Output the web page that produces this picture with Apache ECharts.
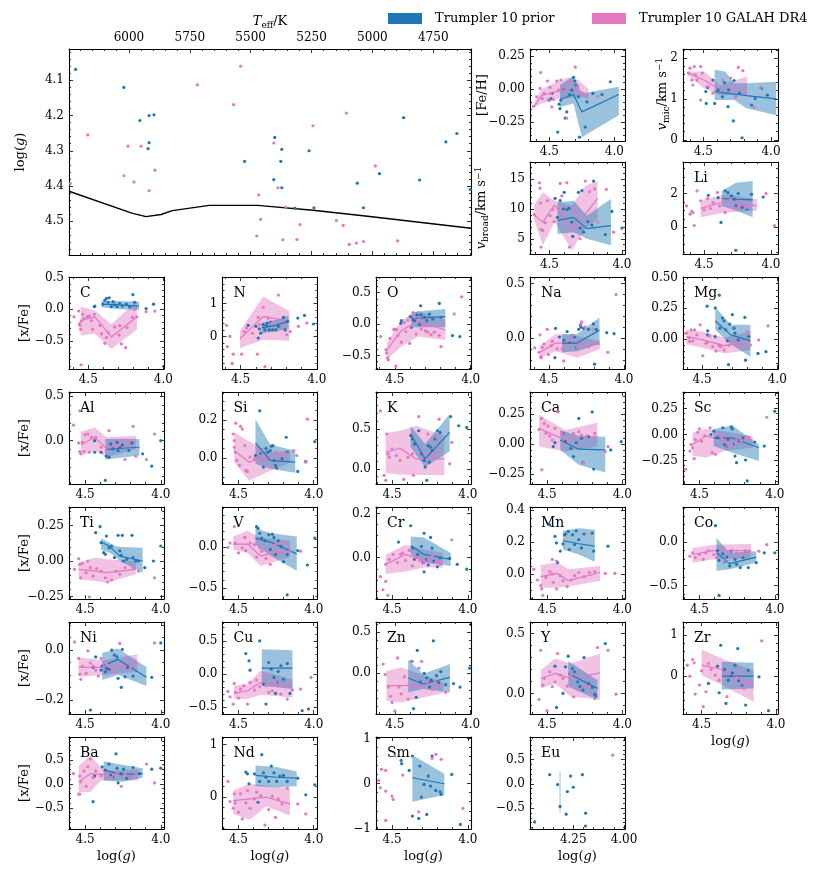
<!DOCTYPE html>
<html><head><meta charset="utf-8">
<script src="https://cdn.jsdelivr.net/npm/echarts@6/dist/echarts.min.js"></script>
<style>html,body{margin:0;padding:0;background:#fff}#c{width:831px;height:872px}</style>
</head><body><div id="c"></div>
<script>
// ---------------- DATA ----------------
// Kiel diagram (Teff [K], log g)
const kiel_prior = [[6219,4.069],[6021,4.12],[5955,4.214],[5917,4.20],[5897,4.198],[5917,4.277],[5921,4.294],[5525,4.33],[5401,4.262],[5372,4.296],[5376,4.33],[5405,4.382],[5372,4.405],[5318,4.463],[5260,4.30],[5240,4.462],[5062,4.392],[5037,4.462],[4971,4.365],[4872,4.206],[4806,4.383],[4698,4.275],[4653,4.251],[4598,4.41]];
const kiel_galah = [[6169,4.255],[6004,4.287],[5950,4.287],[6021,4.371],[5979,4.389],[5893,4.355],[5917,4.413],[6240,4.393],[5719,4.113],[5541,4.06],[5570,4.169],[5405,4.278],[5388,4.405],[5467,4.425],[5355,4.46],[5459,4.495],[5297,4.51],[5475,4.542],[5368,4.553],[5310,4.552],[5244,4.229],[5107,4.193],[5148,4.498],[5120,4.512],[5095,4.566],[5066,4.562],[5037,4.558],[4988,4.343],[4897,4.556]];
const isochrone = [[6246,4.415],[5988,4.477],[5930,4.487],[5868,4.481],[5822,4.470],[5670,4.455],[5471,4.455],[5244,4.469],[5020,4.486],[4595,4.52]];

// band rows: [log g, lower, median, upper]
const feh_prior = [[4.503,-0.085],[4.479,-0.033],[4.487,-0.072],[4.425,-0.115],[4.418,-0.149],[4.412,-0.085],[4.379,-0.221],[4.366,-0.174],[4.392,0.005],[4.345,-0.041],[4.327,-0.008],[4.314,0.090],[4.304,0.062],[4.296,0.031],[4.276,-0.059],[4.224,-0.29],[4.211,-0.097],[4.165,-0.033],[4.095,-0.041],[4.031,0.056],[4.436,-0.328],[4.268,-0.367]];
const feh_galah = [[4.624,-0.131],[4.598,-0.059],[4.572,0.005],[4.567,0.126],[4.554,-0.072],[4.541,-0.033],[4.515,0.062],[4.508,-0.079],[4.495,0.013],[4.487,-0.033],[4.469,-0.079],[4.443,0.062],[4.430,-0.008],[4.412,0.069],[4.392,0.013],[4.366,-0.221],[4.340,0.056],[4.301,0.167],[4.281,0.023],[4.250,-0.033],[4.211,-0.059],[4.126,-0.054],[4.482,-0.136]];
const feh_priorBand = [[4.418,-0.136,-0.079,0.031],[4.314,-0.11,-0.041,0.1],[4.25,-0.367,-0.174,-0.033],[3.966,-0.2,-0.041,0.018]];
const feh_galahBand = [[4.616,-0.14,-0.13,-0.10],[4.559,-0.11,-0.05,0.0],[4.456,-0.08,-0.02,0.05],[4.353,-0.07,0.0,0.09],[4.276,-0.06,-0.01,0.07],[4.198,-0.06,-0.05,0.0]];

const vmic_prior = [[4.482,1.18],[4.469,1.28],[4.479,0.89],[4.417,0.89],[4.430,1.46],[4.391,1.22],[4.359,1.05],[4.344,1.40],[4.318,0.81],[4.279,0.46],[4.273,1.45],[4.234,1.14],[4.214,0.05],[4.143,0.85],[4.117,1.01],[4.070,1.26],[4.026,1.09],[4.313,1.22],[4.260,1.05]];
const vmic_galah = [[4.612,1.63],[4.599,1.75],[4.568,1.79],[4.586,1.46],[4.578,1.34],[4.560,1.59],[4.521,1.79],[4.508,1.63],[4.521,0.97],[4.464,1.30],[4.430,1.14],[4.357,1.46],[4.299,1.51],[4.286,1.26],[4.260,1.05],[4.242,1.77],[4.208,1.69],[4.195,1.14],[4.125,0.79],[4.078,1.28],[4.547,1.46]];
const vmic_priorBand = [[4.417,0.97,1.18,1.71],[4.339,0.97,1.14,1.67],[4.273,0.97,1.12,1.38],[4.182,0.77,1.08,1.38],[3.961,0.60,1.0,1.42]];
const vmic_galahBand = [[4.612,1.56,1.63,1.67],[4.495,1.26,1.46,1.67],[4.378,1.09,1.23,1.34],[4.177,1.09,1.22,1.55]];

const vbr_prior = [[4.461,11.8],[4.426,11.4],[4.403,10.0],[4.398,12.8],[4.380,9.9],[4.364,10.1],[4.346,7.8],[4.339,5.4],[4.300,12.8],[4.276,13.1],[4.288,6.8],[4.265,6.1],[4.235,7.9],[4.207,7.3],[4.196,14.7],[4.115,5.7],[4.069,9.6],[4.0,6.8],[4.445,8.6]];
const vbr_galah = [[4.606,9.06],[4.569,14.4],[4.565,13.5],[4.560,11.0],[4.558,6.56],[4.558,3.6],[4.546,6.4],[4.530,7.7],[4.514,11.4],[4.495,8.9],[4.477,9.9],[4.468,7.9],[4.426,14.3],[4.415,12.2],[4.392,9.6],[4.380,14.4],[4.362,3.6],[4.346,6.7],[4.329,9.9],[4.306,9.2],[4.288,5.0],[4.253,14.7],[4.223,12.9],[4.188,13.4],[4.166,7.8],[4.108,13.3],[4.058,6.1]];
const vbr_priorBand = [[4.445,5.8,8.1,11.1],[4.334,6.1,8.6,11.4],[4.242,5.0,6.7,8.9],[4.076,3.9,7.2,11.7]];
const vbr_galahBand = [[4.606,8.3,9.0,10.7],[4.546,3.9,7.8,12.8],[4.465,7.8,10.7,11.4],[4.346,3.1,6.6,10.6],[4.253,6.7,9.1,13.9],[4.168,8.3,11.8,14.7]];

const li_prior = [[4.468,1.90],[4.374,0.29],[4.395,1.76],[4.342,2.16],[4.321,2.06],[4.295,1.86],[4.276,1.67],[4.245,2.0],[4.263,1.27],[4.216,1.18],[4.179,1.08],[4.145,1.96],[4.058,1.80],[4.263,-1.37]];
const li_galah = [[4.632,1.27],[4.605,0.78],[4.592,0.94],[4.584,0.88],[4.574,0.10],[4.553,2.16],[4.526,1.57],[4.500,1.04],[4.453,1.12],[4.434,1.47],[4.400,2.06],[4.382,1.27],[4.342,0.88],[4.303,1.67],[4.266,1.12],[4.237,1.24],[4.211,1.37],[4.179,1.18],[3.974,0.10],[4.037,2.0],[4.474,1.71]];
const li_priorBand = [[4.368,1.27,1.71,2.16],[4.263,1.0,1.67,2.65],[4.137,0.59,1.63,2.75]];
const li_galahBand = [[4.526,0.59,1.12,1.61],[4.342,0.88,1.53,1.96],[4.105,0.98,1.27,1.67]];

const c_prior = [[4.46,0.04],[4.456,0.05],[4.390,0.14],[4.379,0.17],[4.361,0.18],[4.401,0.08],[4.368,0.11],[4.346,0.04],[4.335,0.12],[4.324,0.07],[4.308,0.04],[4.291,0.09],[4.273,0.05],[4.247,0.08],[4.225,0.04],[4.203,0.23],[4.192,0.11],[4.115,0.01],[4.066,0.08]];
const c_galah = [[4.595,-0.12],[4.564,-0.03],[4.559,-0.23],[4.555,-0.26],[4.551,-0.32],[4.546,-0.19],[4.537,-0.08],[4.529,-0.15],[4.507,-0.12],[4.493,-0.11],[4.478,-0.18],[4.460,-0.08],[4.423,-0.26],[4.412,-0.39],[4.390,-0.54],[4.379,-0.45],[4.368,-0.37],[4.324,-0.28],[4.295,-0.41],[4.291,-0.26],[4.280,-0.55],[4.251,-0.61],[4.242,-0.29],[4.207,-0.13],[4.192,0.0],[4.176,-0.12],[4.115,-0.04],[4.057,-0.03],[4.548,-0.88],[4.471,-0.32]];
const c_priorBand = [[4.412,0.03,0.08,0.13],[4.291,0.0,0.07,0.13],[4.163,-0.01,0.05,0.12]];
const c_galahBand = [[4.551,-0.42,-0.18,0.04],[4.456,-0.39,-0.12,-0.02],[4.346,-0.63,-0.44,-0.24],[4.176,-0.32,-0.12,0.13]];

const n_prior = [[4.450,0.34],[4.399,0.31],[4.384,-0.05],[4.377,0.23],[4.368,0.10],[4.351,0.36],[4.340,0.20],[4.325,0.41],[4.311,0.20],[4.303,0.44],[4.289,0.20],[4.268,0.20],[4.252,0.31],[4.219,0.58],[4.208,0.20],[4.193,0.46],[4.125,0.56],[4.081,0.64],[4.022,0.38],[4.329,0.33]];
const n_galah = [[4.592,0.34],[4.586,-0.31],[4.570,0],[4.555,-0.82],[4.548,-0.54],[4.493,-0.54],[4.461,0.26],[4.421,0.10],[4.390,-0.54],[4.384,0.58],[4.377,0.36],[4.351,0.89],[4.340,-0.92],[4.318,0.56],[4.296,0.41],[4.252,1.26],[4.230,0.26],[4.197,0.05],[4.175,0.15],[4.121,0.31],[4.066,0.41],[4.476,0.15]];
const n_priorBand = [[4.362,0.1,0.26,0.41],[4.274,0.16,0.34,0.50],[4.186,0.23,0.46,0.64]];
const n_galahBand = [[4.504,-0.36,-0.07,0.17],[4.351,-0.10,0.61,1.22],[4.18,-0.13,0.46,0.77]];

const o_prior = [[4.457,0.053],[4.461,0.01],[4.398,0.116],[4.391,-0.053],[4.380,0.063],[4.37,0.053],[4.354,0.147],[4.343,0.13],[4.330,0.29],[4.326,0.147],[4.337,-0.01],[4.304,0.105],[4.289,0.053],[4.272,0.158],[4.25,0.079],[4.207,0.326],[4.196,0.105],[4.12,-0.184],[4.072,-0.2]];
const o_galah = [[4.593,-0.2],[4.559,-0.41],[4.554,-0.46],[4.548,-0.54],[4.543,-0.57],[4.533,-0.23],[4.507,-0.09],[4.5,-0.08],[4.489,-0.09],[4.478,-0.18],[4.493,-0.67],[4.457,-0.29],[4.439,0.02],[4.428,-0.12],[4.413,0.06],[4.402,-0.31],[4.391,-0.03],[4.380,0.18],[4.37,0.11],[4.359,-0.16],[4.341,0.11],[4.326,-0.08],[4.311,-0.03],[4.298,-0.11],[4.283,-0.13],[4.261,-0.17],[4.239,-0.13],[4.207,-0.18],[4.196,-0.36],[4.185,0.06],[4.109,0.16],[4.059,0.43]];
const o_priorBand = [[4.391,-0.053,0.09,0.184],[4.30,-0.053,0.10,0.21],[4.167,-0.053,0.116,0.237]];
const o_galahBand = [[4.554,-0.568,-0.42,-0.305],[4.457,-0.358,-0.105,0.063],[4.348,-0.2,0.042,0.21],[4.167,-0.253,-0.095,0.053]];

const na_prior = [[4.456,0.09],[4.460,-0.18],[4.430,0.01],[4.401,-0.02],[4.379,0.06],[4.361,-0.04],[4.346,0.02],[4.330,0.01],[4.317,-0.085],[4.302,0.08],[4.291,0.12],[4.286,0.10],[4.269,0.09],[4.236,0.08],[4.203,0.13],[4.196,-0.24],[4.185,0.08],[4.115,0.05],[4.066,0.04]];
const na_galah = [[4.595,-0.09],[4.566,-0.13],[4.555,-0.17],[4.551,-0.18],[4.559,0.03],[4.544,-0.085],[4.533,-0.055],[4.511,0.08],[4.504,-0.15],[4.485,-0.07],[4.478,-0.03],[4.445,-0.10],[4.412,-0.10],[4.401,-0.21],[4.379,-0.07],[4.361,-0.02],[4.346,0.02],[4.313,-0.08],[4.286,0.13],[4.282,0.15],[4.258,0.10],[4.236,-0.08],[4.207,0.08],[4.176,-0.05],[4.108,-0.13],[4.053,0.40]];
const na_priorBand = [[4.412,-0.13,-0.046,0.037],[4.313,-0.12,-0.046,0.037],[4.163,-0.055,0.073,0.19]];
const na_galahBand = [[4.559,-0.18,-0.13,-0.07],[4.456,-0.12,-0.046,0.037],[4.313,-0.18,-0.05,0.02],[4.159,-0.10,-0.055,-0.03]];

const mg_prior = [[4.467,0.267],[4.463,0.066],[4.463,0.033],[4.413,0.253],[4.413,0.019],[4.386,0.357],[4.382,0.088],[4.365,0.17],[4.354,0.148],[4.332,-0.016],[4.325,-0.209],[4.317,0.121],[4.299,0.198],[4.288,0.088],[4.282,0.047],[4.260,-0.008],[4.216,0.176],[4.212,-0.173],[4.190,0.019],[4.129,-0.118],[4.076,-0.104],[4.343,0.074]];
const mg_galah = [[4.605,0.047],[4.587,0.01],[4.583,-0.02],[4.572,0.074],[4.561,-0.016],[4.550,0.074],[4.535,0.033],[4.513,0.115],[4.496,-0.137],[4.474,-0.036],[4.452,0.025],[4.430,-0.063],[4.408,-0.099],[4.391,-0.05],[4.376,-0.063],[4.354,-0.09],[4.321,-0.05],[4.277,-0.027],[4.255,-0.036],[4.234,-0.063],[4.201,0.06],[4.179,-0.05],[4.124,-0.008],[4.063,0.107],[4.467,-0.027]];
const mg_priorBand = [[4.413,0.074,0.148,0.258],[4.31,-0.044,0.033,0.115],[4.179,-0.146,-0.016,0.115]];
const mg_galahBand = [[4.605,-0.044,0.019,0.074],[4.496,-0.071,-0.008,0.06],[4.354,-0.118,-0.055,0.011],[4.179,-0.091,-0.022,0.06]];

const al_prior = [[4.437,0],[4.437,-0.13],[4.394,-0.13],[4.359,-0.174],[4.342,-0.185],[4.331,-0.037],[4.317,-0.093],[4.289,-0.019],[4.282,-0.111],[4.271,-0.074],[4.254,-0.048],[4.211,-0.111],[4.19,-0.026],[4.120,-0.148],[4.060,-0.285],[4.0,0],[4.366,-0.444]];
const al_galah = [[4.577,0.174],[4.535,0.333],[4.542,-0.026],[4.535,-0.122],[4.528,-0.148],[4.518,-0.019],[4.507,-0.122],[4.5,0.067],[4.482,0.074],[4.472,-0.13],[4.458,0.037],[4.43,0.037],[4.394,-0.074],[4.359,-0.111],[4.342,0.111],[4.306,-0.037],[4.282,-0.056],[4.261,0],[4.236,-0.211],[4.218,0],[4.183,0.159],[4.165,-0.174],[4.095,-0.211],[4.042,0.074]];
const al_priorBand = [[4.366,-0.211,-0.1,0.019],[4.254,-0.19,-0.085,0.02],[4.141,-0.167,-0.074,0.019]];
const al_galahBand = [[4.528,-0.167,-0.048,0.1],[4.437,-0.111,0.037,0.148],[4.359,-0.185,-0.085,0.037],[4.165,-0.093,-0.037,0.056]];

const si_prior = [[4.387,0.014],[4.359,0.249],[4.352,0.023],[4.334,-0.047],[4.317,0.052],[4.306,0.031],[4.289,0.04],[4.282,0.063],[4.271,0.066],[4.264,-0.012],[4.254,-0.038],[4.246,-0.052],[4.211,-0.003],[4.183,0.11],[4.176,0.031],[4.106,-0.07],[4.053,-0.017],[3.993,0.087]];
const si_galah = [[4.535,0.127],[4.528,0.092],[4.518,0.184],[4.528,0.057],[4.521,0.031],[4.511,-0.012],[4.493,-0.038],[4.486,0.167],[4.475,0.153],[4.458,0.066],[4.451,-0.064],[4.440,-0.07],[4.423,0.005],[4.394,-0.003],[4.370,0.04],[4.352,0.014],[4.324,-0.012],[4.282,-0.047],[4.254,0.031],[4.229,0.005],[4.176,0.023],[4.134,0.04],[4.113,0.014],[4.042,0.205],[4.053,-0.021]];
const si_priorBand = [[4.387,-0.03,0.08,0.205],[4.289,-0.056,-0.012,0.07],[4.123,-0.077,-0.021,0.04]];
const si_galahBand = [[4.528,-0.021,0.04,0.136],[4.43,-0.117,-0.021,0.087],[4.282,-0.064,0.014,0.031],[4.158,-0.024,0.023,0.04]];

const k_prior = [[4.377,0.417],[4.366,0.375],[4.352,0.313],[4.324,0.479],[4.306,0.188],[4.289,0.104],[4.282,0.021],[4.271,-0.146],[4.261,0.292],[4.246,0.271],[4.236,0.229],[4.218,0.375],[4.201,0.479],[4.183,0.458],[4.113,0.658],[4.060,0.542],[4.007,0.521],[4.254,0.083]];
const k_galah = [[4.577,0.729],[4.553,-0.083],[4.542,-0.146],[4.535,0.438],[4.528,0.188],[4.518,0.146],[4.5,0.25],[4.472,0.167],[4.447,0.104],[4.423,-0.133],[4.394,0.146],[4.366,0.188],[4.324,0.658],[4.289,0.2],[4.264,0.438],[4.236,0.167],[4.211,0.208],[4.190,0.625],[4.183,0.417],[4.120,0.063],[4.106,0.333],[4.359,-0.083]];
const k_priorBand = [[4.377,0.271,0.438,0.542],[4.282,0.021,0.125,0.313],[4.120,0.217,0.458,0.688]];
const k_galahBand = [[4.542,-0.05,0.208,0.45],[4.447,-0.075,0.258,0.479],[4.342,-0.075,0.125,0.542],[4.155,-0.083,0.125,0.417]];

const ca_prior = [[4.458,-0.022],[4.447,0.011],[4.394,0.089],[4.377,0.019],[4.342,-0.036],[4.324,-0.106],[4.306,0.011],[4.289,0.214],[4.271,0.047],[4.261,-0.156],[4.225,0.061],[4.2,0.269],[4.190,-0.211],[4.077,-0.05],[4.007,0.019]];
const ca_galah = [[4.553,0.122],[4.535,0.214],[4.535,-0.217],[4.518,0.172],[4.507,0.089],[4.493,0.15],[4.482,0.067],[4.465,0.033],[4.447,0.131],[4.430,0.269],[4.401,0.089],[4.377,0.061],[4.359,0.033],[4.324,0.089],[4.289,0.103],[4.271,0.075],[4.236,0.067],[4.183,0.089],[4.113,-0.064],[4.095,-0.022],[4.261,-0.161]];
const ca_priorBand = [[4.412,-0.05,0.033,0.117],[4.289,-0.175,-0.044,0.067],[4.113,-0.239,-0.05,0.061]];
const ca_galahBand = [[4.553,-0.022,0.131,0.242],[4.377,-0.064,0.033,0.117],[4.165,-0.022,0.067,0.178]];

const sc_prior = [[4.423,0],[4.405,0.032],[4.380,-0.032],[4.345,0.064],[4.335,-0.096],[4.317,-0.111],[4.310,-0.048],[4.289,0.073],[4.282,0.054],[4.275,-0.096],[4.264,-0.207],[4.254,-0.271],[4.239,-0.064],[4.211,-0.032],[4.194,-0.245],[4.183,-0.446],[4.134,-0.073],[4.070,-0.111],[4.0,0.223]];
const sc_galah = [[4.592,-0.334],[4.563,-0.159],[4.556,-0.096],[4.546,-0.127],[4.535,-0.232],[4.528,-0.048],[4.511,0.022],[4.5,0.054],[4.486,-0.064],[4.465,-0.01],[4.430,0.064],[4.415,-0.175],[4.394,-0.191],[4.370,0.016],[4.352,-0.032],[4.324,-0.073],[4.310,-0.105],[4.282,-0.105],[4.254,-0.054],[4.225,-0.064],[4.183,-0.022],[4.169,-0.032],[4.053,0.166]];
const sc_priorBand = [[4.405,-0.111,-0.032,0.054],[4.282,-0.175,-0.032,0.086],[4.106,-0.255,-0.127,-0.096]];
const sc_galahBand = [[4.546,-0.201,-0.096,0.016],[4.458,-0.223,-0.016,0.054],[4.335,-0.159,-0.054,0.032],[4.148,-0.127,-0.048,-0.016]];

const ti_prior = [[4.401,0.242],[4.394,0.129],[4.377,0.059],[4.366,0.047],[4.359,0.176],[4.342,0.094],[4.324,0.106],[4.306,0.024],[4.282,0.181],[4.271,0.071],[4.261,0.04],[4.254,0.181],[4.246,0],[4.225,0.012],[4.190,0.181],[4.183,0.024],[4.165,0],[4.148,0],[4.106,-0.047],[4.049,0],[4.0,0.106],[4.430,0.2]];
const ti_galah = [[4.570,-0.059],[4.542,0.016],[4.535,-0.024],[4.528,-0.118],[4.518,-0.016],[4.493,-0.082],[4.482,0],[4.465,-0.047],[4.447,-0.106],[4.423,-0.054],[4.394,-0.071],[4.366,-0.118],[4.352,-0.148],[4.324,-0.134],[4.296,-0.071],[4.271,-0.094],[4.236,-0.047],[4.183,-0.047],[4.148,-0.071],[4.042,-0.118],[4.472,-0.254]];
const ti_priorBand = [[4.394,0.082,0.134,0.158],[4.342,0.06,0.106,0.13],[4.306,0.035,0.07,0.106],[4.271,0.0,0.035,0.1],[4.120,-0.082,0,0.094]];
const ti_galahBand = [[4.542,-0.129,-0.059,-0.012],[4.43,-0.141,-0.071,0.024],[4.359,-0.153,-0.082,0.012],[4.165,-0.094,-0.059,0]];

const v_prior = [[4.380,0.254],[4.370,0.234],[4.359,0.173],[4.345,0.113],[4.324,0.081],[4.299,0.153],[4.289,-0.028],[4.275,0.161],[4.264,0.121],[4.254,-0.089],[4.236,0.081],[4.218,0.012],[4.201,-0.177],[4.176,-0.089],[4.106,-0.04],[4.042,-0.218],[3.993,0.113],[4.176,-0.585]];
const v_galah = [[4.570,0],[4.556,0.052],[4.528,0.254],[4.521,0.052],[4.5,-0.069],[4.475,-0.008],[4.458,0.121],[4.451,-0.04],[4.423,0.052],[4.394,0.032],[4.380,-0.121],[4.359,-0.008],[4.345,-0.048],[4.317,-0.137],[4.289,-0.21],[4.275,-0.081],[4.254,0.032],[4.225,-0.069],[4.201,0.052],[4.158,-0.04],[4.088,-0.048]];
const v_priorBand = [[4.387,0.032,0.113,0.234],[4.282,-0.109,0.06,0.173],[4.113,-0.29,-0.081,0.133]];
const v_galahBand = [[4.535,-0.028,0.04,0.133],[4.44,-0.069,0.04,0.202],[4.352,-0.23,-0.109,0.121],[4.158,-0.121,-0.008,0.081]];

const cr_prior = [[4.458,0.071],[4.377,0.145],[4.366,0.044],[4.352,-0.007],[4.331,0.015],[4.306,0.052],[4.296,-0.022],[4.289,0.111],[4.271,-0.007],[4.261,-0.033],[4.246,0.092],[4.236,0.044],[4.225,-0.015],[4.201,-0.041],[4.183,0],[4.120,-0.003],[4.070,-0.03],[4.007,-0.052],[4.289,-0.064]];
const cr_galah = [[4.577,-0.086],[4.560,-0.145],[4.542,-0.107],[4.528,-0.170],[4.518,-0.007],[4.493,0.015],[4.465,-0.022],[4.444,0.015],[4.430,0.022],[4.412,-0.012],[4.387,0.033],[4.366,-0.037],[4.342,0],[4.317,-0.012],[4.289,-0.022],[4.261,-0.007],[4.236,0.007],[4.211,-0.022],[4.183,-0.03],[4.106,0.081],[4.542,-0.03]];
const cr_priorBand = [[4.377,0.015,0.056,0.096],[4.289,-0.022,0.015,0.092],[4.113,-0.037,-0.007,0.022]];
const cr_galahBand = [[4.542,-0.074,-0.03,0.012],[4.412,-0.062,0.015,0.059],[4.289,-0.044,-0.012,0.037],[4.165,-0.044,-0.018,0.022]];

const mn_prior = [[4.482,0.308],[4.447,0.236],[4.437,0.195],[4.430,0.072],[4.412,0.144],[4.394,0.189],[4.377,0.251],[4.359,0.267],[4.352,0.154],[4.331,0.246],[4.317,0.185],[4.306,0.271],[4.289,0.216],[4.271,0.164],[4.254,0.251],[4.2,0.257],[4.190,0.144],[4.095,0.175],[4.384,0.246]];
const mn_galah = [[4.588,0.031],[4.563,-0.037],[4.542,-0.072],[4.535,-0.092],[4.528,-0.133],[4.507,-0.021],[4.482,0.016],[4.465,0],[4.458,-0.051],[4.437,-0.092],[4.412,-0.01],[4.394,-0.041],[4.366,-0.078],[4.342,-0.037],[4.317,-0.01],[4.289,0.01],[4.254,-0.016],[4.218,0.01],[4.183,0.016],[4.113,0.004],[4.049,0.004],[4.465,0.092],[4.437,0.082]];
const mn_priorBand = [[4.394,0.154,0.209,0.271],[4.289,0.123,0.19,0.287],[4.183,0.078,0.175,0.277]];
const mn_galahBand = [[4.542,-0.086,-0.016,0.057],[4.43,-0.086,0.004,0.072],[4.359,-0.078,-0.041,0.031],[4.148,-0.041,0.01,0.051]];

const co_prior = [[4.394,0.188],[4.380,-0.098],[4.370,-0.211],[4.345,-0.135],[4.335,-0.226],[4.317,-0.173],[4.299,-0.274],[4.289,-0.105],[4.264,-0.199],[4.254,-0.256],[4.229,-0.293],[4.211,-0.18],[4.194,-0.105],[4.176,-0.293],[4.123,-0.237],[4.070,-0.124],[4.0,-0.124],[4.370,-0.613]];
const co_galah = [[4.563,-0.162],[4.546,-0.124],[4.528,-0.18],[4.5,-0.143],[4.475,-0.199],[4.458,-0.124],[4.440,-0.098],[4.405,-0.143],[4.387,-0.18],[4.345,-0.086],[4.335,-0.218],[4.299,-0.162],[4.282,-0.098],[4.254,-0.124],[4.225,-0.162],[4.194,-0.105],[4.169,-0.105],[4.106,-0.105],[4.053,-0.03]];
const co_priorBand = [[4.387,-0.331,-0.124,0.045],[4.299,-0.312,-0.248,-0.124],[4.123,-0.237,-0.173,-0.105]];
const co_galahBand = [[4.546,-0.237,-0.143,-0.068],[4.405,-0.199,-0.098,-0.03],[4.158,-0.188,-0.098,-0.023]];

const ni_prior = [[4.447,-0.069],[4.430,-0.027],[4.394,-0.08],[4.387,-0.064],[4.366,-0.087],[4.359,-0.073],[4.342,-0.077],[4.324,0],[4.306,-0.02],[4.289,-0.027],[4.282,-0.113],[4.261,-0.149],[4.254,0.003],[4.236,-0.107],[4.218,-0.069],[4.183,-0.104],[4.060,-0.109],[4.0,0.029],[4.465,-0.24]];
const ni_galah = [[4.570,0.033],[4.542,-0.033],[4.535,-0.096],[4.528,-0.117],[4.518,-0.064],[4.493,-0.093],[4.482,-0.003],[4.465,-0.051],[4.447,-0.064],[4.430,-0.08],[4.412,-0.104],[4.394,-0.033],[4.377,-0.067],[4.359,-0.056],[4.324,-0.087],[4.306,-0.087],[4.271,0.027],[4.246,-0.064],[4.225,-0.029],[4.201,-0.067],[4.042,0.029]];
const ni_priorBand = [[4.387,-0.12,-0.064,-0.011],[4.282,-0.1,-0.037,0.007],[4.095,-0.144,-0.109,-0.067]];
const ni_galahBand = [[4.542,-0.107,-0.069,-0.029],[4.377,-0.1,-0.069,-0.04],[4.155,-0.087,-0.053,-0.016]];

const cu_prior = [[4.451,0.31],[4.430,0.2],[4.423,0.06],[4.359,0.5],[4.334,-0.15],[4.317,-0.45],[4.299,0.175],[4.282,0.075],[4.264,-0.05],[4.254,-0.29],[4.236,0.04],[4.218,0.125],[4.201,-0.075],[4.176,0.16],[4.158,-0.29],[4.077,-0.55],[4.035,-0.525],[4.246,-0.125]];
const cu_galah = [[4.570,-0.26],[4.556,-0.34],[4.535,-0.45],[4.528,-0.14],[4.521,-0.275],[4.5,-0.36],[4.486,-0.225],[4.465,-0.175],[4.440,-0.45],[4.423,-0.125],[4.394,-0.24],[4.380,-0.09],[4.359,-0.19],[4.334,-0.025],[4.317,-0.175],[4.299,-0.275],[4.275,-0.25],[4.254,-0.125],[4.218,-0.3],[4.176,-0.375],[4.141,-0.24],[4.088,-0.225],[4.018,-0.05]];
const cu_priorBand = [[4.345,-0.175,0.09,0.375],[4.141,-0.225,0.09,0.36]];
const cu_galahBand = [[4.528,-0.375,-0.29,-0.175],[4.44,-0.375,-0.25,-0.15],[4.352,-0.31,-0.125,0.05],[4.141,-0.35,-0.2,-0.075]];

const zn_prior = [[4.387,0.146],[4.377,-0.429],[4.359,-0.292],[4.352,0.279],[4.331,-0.104],[4.306,0],[4.289,-0.054],[4.271,-0.167],[4.261,-0.083],[4.246,0.396],[4.225,-0.029],[4.211,-0.113],[4.197,0.021],[4.165,-0.138],[4.113,-0.125],[4.070,-0.167],[4.007,0.063]];
const zn_galah = [[4.577,0.113],[4.563,-0.013],[4.542,-0.167],[4.528,-0.279],[4.518,-0.354],[4.5,-0.46],[4.482,0.188],[4.472,-0.167],[4.458,-0.25],[4.437,-0.042],[4.412,-0.313],[4.394,0.146],[4.366,-0.146],[4.342,0.063],[4.324,0.146],[4.289,-0.104],[4.254,-0.196],[4.236,-0.083],[4.201,-0.146],[4.165,-0.229]];
const zn_priorBand = [[4.412,-0.232,-0.057,0.163],[4.313,-0.191,-0.13,-0.008],[4.137,-0.232,-0.049,0.114]];
const zn_galahBand = [[4.555,-0.333,-0.15,0.03],[4.456,-0.354,-0.15,0.073],[4.181,-0.24,-0.134,-0.11]];

const y_prior = [[4.447,0.228],[4.437,-0.117],[4.394,0],[4.377,0.222],[4.359,0.311],[4.331,0.208],[4.317,0.181],[4.296,0.097],[4.282,0.056],[4.261,0.028],[4.254,0.3],[4.225,0.083],[4.2,0.05],[4.183,-0.006],[4.176,-0.022],[4.113,0.417]];
const y_galah = [[4.553,-0.05],[4.542,0.361],[4.528,0.069],[4.518,0.125],[4.5,-0.144],[4.482,0.181],[4.465,0.056],[4.447,0.097],[4.430,0.333],[4.412,0.153],[4.394,0.125],[4.366,0.061],[4.342,0.153],[4.324,-0.028],[4.289,0.028],[4.254,0.056],[4.218,0.056],[4.183,-0.042],[4.165,0.383],[4.095,0.361],[4.042,-0.006]];
const y_priorBand = [[4.359,0.056,0.167,0.272],[4.165,-0.05,0.042,0.111]];
const y_galahBand = [[4.542,0.042,0.125,0.194],[4.447,0.083,0.167,0.292],[4.342,-0.028,0.125,0.25],[4.148,-0.05,0.172,0.333]];

const zr_prior = [[4.454,-0.179],[4.393,0.244],[4.371,0.756],[4.382,-0.407],[4.346,0.163],[4.336,-0.667],[4.321,-0.098],[4.3,0],[4.293,0.081],[4.275,0.268],[4.257,0.675],[4.25,-0.114],[4.229,-0.22],[4.204,-0.707],[4.186,0.146],[4.114,-0.016],[4.05,-0.846]];
const zr_galah = [[4.596,0.268],[4.579,0],[4.561,0.407],[4.55,0.325],[4.543,-0.439],[4.514,-0.22],[4.5,0.13],[4.489,-0.748],[4.471,-0.382],[4.454,0.309],[4.436,0.163],[4.407,0.024],[4.382,-0.098],[4.346,0.081],[4.329,-0.504],[4.293,-0.057],[4.264,-0.033],[4.239,-0.179],[4.214,-0.301],[4.193,-0.179],[4.096,0.862]];
const zr_priorBand = [[4.364,-0.325,0,0.35],[4.15,-0.3,0,0.325]];
const zr_galahBand = [[4.5,0.024,0.268,0.65],[4.364,-0.22,0.163,0.431],[4.15,-0.626,-0.22,0.13]];

const ba_prior = [[4.447,-0.371],[4.437,0.164],[4.387,0.357],[4.366,0.286],[4.359,0.236],[4.342,0.414],[4.331,0.186],[4.317,0.129],[4.296,0.629],[4.289,0.329],[4.282,0.021],[4.261,0.214],[4.246,0.307],[4.225,0.114],[4.201,0.129],[4.183,0.343],[4.060,0.307],[4.0,0.329],[4.141,0.214]];
const ba_galah = [[4.577,0.214],[4.542,-0.214],[4.535,0.164],[4.528,0.043],[4.507,0.271],[4.493,-0.05],[4.482,0.357],[4.465,0.521],[4.447,0.129],[4.430,0.271],[4.394,0.164],[4.359,0.236],[4.324,0.129],[4.289,0.236],[4.261,-0.05],[4.236,0.2],[4.201,0.129],[4.165,0.214],[4.095,0.414],[4.042,0.021],[4.535,-0.214]];
const ba_priorBand = [[4.377,0.071,0.286,0.471],[4.254,0.043,0.2,0.4],[4.120,0.129,0.214,0.329]];
const ba_galahBand = [[4.542,-0.171,0.043,0.379],[4.465,-0.171,0.214,0.593],[4.394,0.071,0.2,0.343],[4.324,0.071,0.214,0.271],[4.148,0.071,0.214,0.307]];

const nd_prior = [[4.451,0.478],[4.440,0.446],[4.430,0.255],[4.394,0.446],[4.370,-0.096],[4.359,0.3],[4.345,0.809],[4.334,0.465],[4.317,0.382],[4.299,0.3],[4.282,0.592],[4.264,0.465],[4.246,0.3],[4.225,0.401],[4.201,0.414],[4.176,0.3],[4.106,0.363],[4.053,0.045],[3.993,0.236]];
const nd_galah = [[4.570,0.3],[4.556,-0.083],[4.535,-0.21],[4.528,0.064],[4.521,-0.108],[4.5,-0.287],[4.486,0.064],[4.475,-0.414],[4.451,-0.108],[4.440,0.127],[4.423,-0.21],[4.394,-0.032],[4.380,0.096],[4.352,0.032],[4.324,-0.529],[4.299,-0.236],[4.275,0.019],[4.254,-0.382],[4.236,-0.032],[4.211,-0.127],[4.176,0.172],[4.106,-0.127],[4.053,-0.318]];
const nd_priorBand = [[4.387,0.21,0.414,0.605],[4.246,0.191,0.38,0.573],[4.113,0.21,0.363,0.49]];
const nd_galahBand = [[4.535,-0.318,-0.064,0.127],[4.423,-0.427,-0.032,0.255],[4.317,-0.172,0,0.223],[4.158,-0.35,-0.127,0.172]];

const sm_prior = [[4.440,0.519],[4.437,0.444],[4.387,0.296],[4.366,0.615],[4.366,-0.719],[4.324,-0.77],[4.317,0.393],[4.306,-0.296],[4.289,-0.015],[4.271,-0.681],[4.261,0.17],[4.246,-0.052],[4.236,0.615],[4.211,-0.148],[4.183,-0.178],[4.176,-0.237],[4.106,0.207],[4.049,-0.904]];
const sm_galah = [[4.588,0.074],[4.577,-0.089],[4.570,0.319],[4.542,0.296],[4.542,-0.163],[4.542,-0.815],[4.5,-0.274],[4.493,-0.348],[4.482,0.615],[4.430,0.193],[4.324,-0.622],[4.236,0.563],[4.211,0.652],[4.176,0.541],[4.032,-0.548]];
const sm_priorBand = [[4.366,-0.4,0.133,0.637],[4.155,-0.252,0,0.222]];
const sm_galahBand = [];

const eu_prior = [[4.44,-0.785],[4.366,0.188],[4.327,-0.014],[4.315,-0.465],[4.279,-0.16],[4.285,-0.625],[4.263,0.16],[4.25,-0.07],[4.205,0.188],[4.189,-0.604],[4.19,-0.868]];
const eu_galah = [[4.056,0.59]];
const eu_priorBand = [[4.315,-0.59,-0.16,0.257]];
const eu_galahBand = [];

// ---------------- LAYOUT / STYLE ----------------
const FONT = 'DejaVu Serif';
const BLUE = '#1f77b4', PINK = '#e377c2';
const BLUE_F = 'rgba(31,119,180,0.45)', PINK_F = 'rgba(227,119,194,0.45)';
const PRIOR = 'Trumpler 10 prior', GALAH = 'Trumpler 10 GALAH DR4';
const COLS = [69, 222.5, 376, 530, 683];
const ROWS = [277, 392, 507, 622, 737];
const PW = 95, PH = 92;
const LX = [3.979, 4.606];

const panels = [
  {lab:'', l:COLS[3], t:49, xr:[3.918,4.649], yr:[-0.396,0.306], ys:0.25, d:[feh_prior,feh_galah,feh_priorBand,feh_galahBand]},
  {lab:'', l:COLS[4], t:49, xr:[3.948,4.651], yr:[-0.03,2.22], ys:1, d:[vmic_prior,vmic_galah,vmic_priorBand,vmic_galahBand]},
  {lab:'', l:COLS[3], t:162, xr:[3.979,4.634], yr:[2.44,17.9], ys:5, d:[vbr_prior,vbr_galah,vbr_priorBand,vbr_galahBand]},
  {lab:'Li', l:COLS[4], t:162, xr:[3.947,4.658], yr:[-1.59,3.88], ys:2, d:[li_prior,li_galah,li_priorBand,li_galahBand]},
  {lab:'C', l:COLS[0], t:ROWS[0], xr:[3.996,4.628], yr:[-0.947,0.51], ys:0.5, d:[c_prior,c_galah,c_priorBand,c_galahBand]},
  {lab:'N', l:COLS[1], t:ROWS[0], xr:[3.996,4.618], yr:[-0.99,1.81], ys:1, d:[n_prior,n_galah,n_priorBand,n_galahBand]},
  {lab:'O', l:COLS[2], t:ROWS[0], xr:[3.998,4.624], yr:[-0.716,0.747], ys:0.5, d:[o_prior,o_galah,o_priorBand,o_galahBand]},
  {lab:'Na', l:COLS[3], t:ROWS[0], xr:[3.993,4.626], yr:[-0.284,0.561], ys:0.5, d:[na_prior,na_galah,na_priorBand,na_galahBand]},
  {lab:'Mg', l:COLS[4], t:ROWS[0], xr:[3.996,4.627], yr:[-0.245,0.505], ys:0.25, d:[mg_prior,mg_galah,mg_priorBand,mg_galahBand]},
  {lab:'Al', l:COLS[0], t:ROWS[1], xr:LX, yr:[-0.485,0.544], ys:0.5, d:[al_prior,al_galah,al_priorBand,al_galahBand]},
  {lab:'Si', l:COLS[1], t:ROWS[1], xr:[3.975,4.606], yr:[-0.136,0.348], ys:0.2, d:[si_prior,si_galah,si_priorBand,si_galahBand]},
  {lab:'K', l:COLS[2], t:ROWS[1], xr:LX, yr:[-0.192,0.967], ys:0.5, d:[k_prior,k_galah,k_priorBand,k_galahBand]},
  {lab:'Ca', l:COLS[3], t:ROWS[1], xr:[3.982,4.613], yr:[-0.336,0.436], ys:0.25, d:[ca_prior,ca_galah,ca_priorBand,ca_galahBand]},
  {lab:'Sc', l:COLS[4], t:ROWS[1], xr:[3.979,4.609], yr:[-0.476,0.409], ys:0.25, d:[sc_prior,sc_galah,sc_priorBand,sc_galahBand]},
  {lab:'Ti', l:COLS[0], t:ROWS[2], xr:LX, yr:[-0.268,0.381], ys:0.25, d:[ti_prior,ti_galah,ti_priorBand,ti_galahBand]},
  {lab:'V', l:COLS[1], t:ROWS[2], xr:[3.975,4.606], yr:[-0.637,0.496], ys:0.5, d:[v_prior,v_galah,v_priorBand,v_galahBand]},
  {lab:'Cr', l:COLS[2], t:ROWS[2], xr:LX, yr:[-0.187,0.23], ys:0.2, d:[cr_prior,cr_galah,cr_priorBand,cr_galahBand]},
  {lab:'Mn', l:COLS[3], t:ROWS[2], xr:[3.982,4.613], yr:[-0.156,0.42], ys:0.2, d:[mn_prior,mn_galah,mn_priorBand,mn_galahBand]},
  {lab:'Co', l:COLS[4], t:ROWS[2], xr:[3.979,4.609], yr:[-0.654,0.402], ys:0.5, d:[co_prior,co_galah,co_priorBand,co_galahBand]},
  {lab:'Ni', l:COLS[0], t:ROWS[3], xr:LX, yr:[-0.256,0.113], ys:0.2, d:[ni_prior,ni_galah,ni_priorBand,ni_galahBand]},
  {lab:'Cu', l:COLS[1], t:ROWS[3], xr:[3.975,4.606], yr:[-0.6,0.785], ys:0.5, d:[cu_prior,cu_galah,cu_priorBand,cu_galahBand]},
  {lab:'Zn', l:COLS[2], t:ROWS[3], xr:[3.998,4.624], yr:[-0.495,0.625], ys:0.5, d:[zn_prior,zn_galah,zn_priorBand,zn_galahBand]},
  {lab:'Y', l:COLS[3], t:ROWS[3], xr:[3.982,4.613], yr:[-0.172,0.597], ys:0.5, d:[y_prior,y_galah,y_priorBand,y_galahBand]},
  {lab:'Zr', l:COLS[4], t:ROWS[3], xr:[3.986,4.625], yr:[-0.927,1.325], ys:1, d:[zr_prior,zr_galah,zr_priorBand,zr_galahBand]},
  {lab:'Ba', l:COLS[0], t:ROWS[4], xr:LX, yr:[-0.943,0.98], ys:0.5, d:[ba_prior,ba_galah,ba_priorBand,ba_galahBand]},
  {lab:'Nd', l:COLS[1], t:ROWS[4], xr:[3.975,4.606], yr:[-0.605,1.146], ys:1, d:[nd_prior,nd_galah,nd_priorBand,nd_galahBand]},
  {lab:'Sm', l:COLS[2], t:ROWS[4], xr:LX, yr:[-1.005,1.037], ys:1, d:[sm_prior,sm_galah,sm_priorBand,sm_galahBand]},
  {lab:'Eu', l:COLS[3], t:ROWS[4], xr:[3.995,4.463], xs:0.25, yr:[-0.93,0.965], ys:0.5, d:[eu_prior,eu_galah,eu_priorBand,eu_galahBand]}
];

// ---------------- BUILD ----------------
function ndiv(step){const e=Math.pow(10,Math.floor(Math.log10(step)+1e-9));const m=step/e;return [1,2.5,5,10].some(v=>Math.abs(v-m)<1e-6)?5:4;}
function ticks(lo,hi,step){const o=[];const s=Math.ceil(lo/step-1e-6),e=Math.floor(hi/step+1e-6);for(let k=s;k<=e;k++)o.push(+(k*step).toFixed(8));return o;}
function decs(step){if(step>=1)return 0;return String(step).split('.')[1].length;}
function fmt(v,d){return (v<-1e-9?'\u2212':'')+Math.abs(v).toFixed(d);}

const grids=[], xAxes=[], yAxes=[], series=[], graphics=[];

function axis(g, pos, rng, inv, vals, len, showLab, dec, line){
  return {type:'value', gridIndex:g, position:pos, min:rng[0], max:rng[1], inverse:inv,
    splitLine:{show:false},
    axisLine:{show:line, onZero:false, lineStyle:{color:'#000', width:1.1}},
    axisTick:{show:true, inside:true, length:len, customValues:vals, lineStyle:{color:'#000', width:0.8}},
    axisLabel:{show:showLab, customValues:vals, formatter:(v)=>fmt(v,dec), fontFamily:FONT, fontSize:12, color:'#000', margin:5},
    axisPointer:{show:false}};
}

function addGrid(l,t,w,h,xr,xs,yr,ys,xinv,yinv,xLabTop){
  const g=grids.length;
  grids.push({left:l, top:t, width:w, height:h, containLabel:false});
  const xMaj=ticks(xr[0],xr[1],xs), xMin=ticks(xr[0],xr[1],xs/ndiv(xs)).filter(v=>!xMaj.some(m=>Math.abs(m-v)<1e-7));
  const yMaj=ticks(yr[0],yr[1],ys), yMin=ticks(yr[0],yr[1],ys/ndiv(ys)).filter(v=>!yMaj.some(m=>Math.abs(m-v)<1e-7));
  const xi=xAxes.length, yi=yAxes.length;
  xAxes.push(axis(g,'bottom',xr,xinv,xMaj,4,!xLabTop,decs(xs),true));
  xAxes.push(axis(g,'top',xr,xinv,xMaj,4,!!xLabTop,decs(xs),true));
  xAxes.push(axis(g,'bottom',xr,xinv,xMin,2,false,0,false));
  xAxes.push(axis(g,'top',xr,xinv,xMin,2,false,0,false));
  yAxes.push(axis(g,'left',yr,yinv,yMaj,4,true,decs(ys),true));
  yAxes.push(axis(g,'right',yr,yinv,yMaj,4,false,decs(ys),true));
  yAxes.push(axis(g,'left',yr,yinv,yMin,2,false,0,false));
  yAxes.push(axis(g,'right',yr,yinv,yMin,2,false,0,false));
  return {xi, yi};
}

function bandSeries(band, fill, col, xi, yi, nm){
  return {type:'custom', name:nm, xAxisIndex:xi, yAxisIndex:yi, data:band, z:1, silent:true,
    itemStyle:{color:col}, encode:{x:0, y:[1,3]}, clip:true,
    renderItem:function(params, api){
      if(params.dataIndex!==0) return null;
      if(band.length===1){
        const a=api.coord([band[0][0],band[0][1]]), b=api.coord([band[0][0],band[0][3]]);
        return {type:'line', shape:{x1:a[0],y1:a[1],x2:b[0],y2:b[1]}, style:{stroke:fill, lineWidth:1}};
      }
      const up=[], lo=[];
      for(const b of band){ up.push(api.coord([b[0],b[3]])); lo.push(api.coord([b[0],b[1]])); }
      return {type:'polygon', shape:{points:up.concat(lo.reverse())}, style:{fill:fill, stroke:null}};
    }};
}
function lineSeries(band, col, xi, yi, nm){
  return {type:'line', name:nm, xAxisIndex:xi, yAxisIndex:yi, data:band.map(b=>[b[0],b[2]]), z:2, silent:true,
    showSymbol:false, symbol:'none', lineStyle:{color:col, width:1.2}, itemStyle:{color:col}};
}
function scatterSeries(pts, col, xi, yi, nm){
  return {type:'scatter', name:nm, xAxisIndex:xi, yAxisIndex:yi, data:pts, z:3, silent:true,
    symbol:'circle', symbolSize:3.2, itemStyle:{color:col, opacity:1}};
}

// Kiel diagram
{
  const a = addGrid(69,49,402,206,[4595,6246],250,[4.011,4.596],0.1,true,true,true);
  series.push({type:'line', name:'isochrone', xAxisIndex:a.xi, yAxisIndex:a.yi, data:isochrone, showSymbol:false, symbol:'none', lineStyle:{color:'#000', width:1.4}, z:2, silent:true});
  series.push(scatterSeries(kiel_prior, BLUE, a.xi, a.yi, PRIOR));
  series.push(scatterSeries(kiel_galah, PINK, a.xi, a.yi, GALAH));
}

for(const p of panels){
  const a = addGrid(p.l,p.t,PW,PH,p.xr,p.xs||0.5,p.yr,p.ys,true,false,false);
  const [pr, ga, pb, gb] = p.d;
  if(gb.length) series.push(bandSeries(gb, PINK_F, PINK, a.xi, a.yi, 'galah band'));
  if(pb.length) series.push(bandSeries(pb, BLUE_F, BLUE, a.xi, a.yi, 'prior band'));
  if(gb.length>1) series.push(lineSeries(gb, PINK, a.xi, a.yi, 'galah median'));
  if(pb.length>1) series.push(lineSeries(pb, BLUE, a.xi, a.yi, 'prior median'));
  series.push(scatterSeries(pr, BLUE, a.xi, a.yi, PRIOR));
  series.push(scatterSeries(ga, PINK, a.xi, a.yi, GALAH));
  if(p.lab) graphics.push({type:'text', left:p.l+11, top:p.t+9, style:{text:p.lab, fontFamily:FONT, fontSize:14, fill:'#000'}, silent:true});
}

// axis titles
const RICH = {
  i:{fontFamily:FONT, fontSize:13, fontStyle:'italic', fill:'#000'},
  n:{fontFamily:FONT, fontSize:13, fill:'#000'},
  sub:{fontFamily:FONT, fontSize:9, fill:'#000', padding:[7,0,0,0]},
  sup:{fontFamily:FONT, fontSize:9, fill:'#000', padding:[0,0,7,0]}
};
function title(x,y,text,rot){
  graphics.push({type:'text', x:x, y:y, rotation:rot?Math.PI/2:0, silent:true,
    style:{text:text, rich:RICH, fontFamily:FONT, fontSize:13, fill:'#000', align:'center', verticalAlign:'middle'}});
}
title(270,22,'{i|T}{sub|eff}{n|/K}',false);
title(21,152,'{n|log(}{i|g}{n|)}',true);
title(483,95,'{n|[Fe/H]}',true);
title(663,94,'{i|v}{sub|mic}{n|/km s}{sup|\u22121}',true);
title(482,208,'{i|v}{sub|broad}{n|/km s}{sup|\u22121}',true);
for(const r of ROWS) title(25,r+PH/2,'{n|[x/Fe]}',true);
for(let c=0;c<4;c++) title(COLS[c]+PW/2,857,'{n|log(}{i|g}{n|)}',false);
title(COLS[4]+PW/2,742,'{n|log(}{i|g}{n|)}',false);

const legendBase = {top:12, itemWidth:34, itemHeight:11, selectedMode:false, orient:'horizontal', padding:0,
  textStyle:{fontFamily:FONT, fontSize:13, color:'#000', padding:[0,0,0,8]}};

const chart = echarts.init(document.getElementById('c'), null, {renderer:'canvas'});
chart.setOption({
  animation:false,
  backgroundColor:'#fff',
  legend:[
    Object.assign({}, legendBase, {left:388, data:[{name:PRIOR, icon:'rect'}]}),
    Object.assign({}, legendBase, {left:592, data:[{name:GALAH, icon:'rect'}]})
  ],
  grid:grids, xAxis:xAxes, yAxis:yAxes, series:series, graphic:graphics
});
</script></body></html>
